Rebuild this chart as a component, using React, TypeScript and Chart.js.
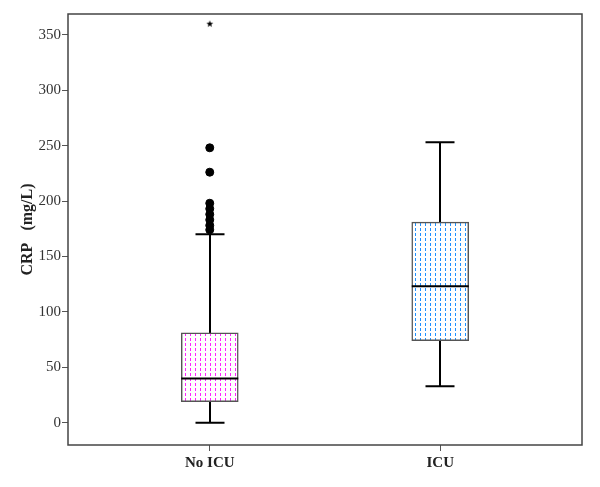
import React, { useEffect, useRef } from "react";
import { Chart, registerables } from "chart.js";
Chart.register(...registerables);

const categories = ["No ICU", "ICU"];
const categoryPositions = [1, 2];
const q1Values = [19, 74];
const medianValues = [40, 123];
const q3Values = [81, 181];
const whiskerLowValues = [0, 33];
const whiskerHighValues = [170, 253];
const outliersNoICU = [174, 178, 183, 188, 193, 198, 226, 248];
const extremesNoICU = [360];
const yTickValues = [0, 50, 100, 150, 200, 250, 300, 350];
const yAxisTitle = "CRP   (mg/L)";
const boxColors = ["#ff22ff", "#1e8fff"];

function makePattern(color: string): CanvasPattern | string {
  const c = document.createElement("canvas");
  c.width = 5;
  c.height = 5;
  const g = c.getContext("2d");
  if (!g) return "#fff";
  g.fillStyle = "#ffffff";
  g.fillRect(0, 0, 5, 5);
  g.fillStyle = color;
  g.fillRect(2, 0, 1, 3);
  const p = g.createPattern(c, "repeat");
  return p || "#fff";
}

function makeStar(): HTMLCanvasElement {
  const c = document.createElement("canvas");
  c.width = 8;
  c.height = 8;
  const g = c.getContext("2d");
  if (g) {
    g.fillStyle = "#000";
    g.beginPath();
    for (let i = 0; i < 10; i++) {
      const r = i % 2 === 0 ? 3.6 : 1.5;
      const a = -Math.PI / 2 + (i * Math.PI) / 5;
      const x = 4 + r * Math.cos(a);
      const y = 4.3 + r * Math.sin(a);
      if (i === 0) g.moveTo(x, y);
      else g.lineTo(x, y);
    }
    g.closePath();
    g.fill();
  }
  return c;
}

const boxPlugin = {
  id: "boxWhiskers",
  beforeDatasetsDraw(chart: any) {
    const { ctx, scales } = chart;
    const xs = scales.x;
    const ys = scales.y;
    ctx.save();
    ctx.strokeStyle = "#000";
    ctx.lineWidth = 2;
    categoryPositions.forEach((pos, i) => {
      const x = Math.round(xs.getPixelForValue(pos));
      const capHalf = 14.5;
      const yHigh = ys.getPixelForValue(whiskerHighValues[i]);
      const yQ3 = ys.getPixelForValue(q3Values[i]);
      const yQ1 = ys.getPixelForValue(q1Values[i]);
      const yLow = ys.getPixelForValue(whiskerLowValues[i]);
      ctx.beginPath();
      ctx.moveTo(x, yHigh);
      ctx.lineTo(x, yQ3);
      ctx.moveTo(x, yQ1);
      ctx.lineTo(x, yLow);
      ctx.moveTo(x - capHalf, yHigh);
      ctx.lineTo(x + capHalf, yHigh);
      ctx.moveTo(x - capHalf, yLow);
      ctx.lineTo(x + capHalf, yLow);
      ctx.stroke();
    });
    ctx.restore();
  },
  afterDatasetsDraw(chart: any) {
    const { ctx, scales } = chart;
    const xs = scales.x;
    const ys = scales.y;
    const meta = chart.getDatasetMeta(0);
    ctx.save();
    ctx.strokeStyle = "#000";
    ctx.lineWidth = 2;
    categoryPositions.forEach((pos, i) => {
      const x = xs.getPixelForValue(pos);
      const el = meta.data[i];
      const half = el ? el.width / 2 : 28;
      const y = ys.getPixelForValue(medianValues[i]);
      ctx.beginPath();
      ctx.moveTo(x - half, y);
      ctx.lineTo(x + half, y);
      ctx.stroke();
    });
    ctx.restore();
  },
  afterDraw(chart: any) {
    const { ctx, chartArea } = chart;
    ctx.save();
    ctx.strokeStyle = "#444";
    ctx.lineWidth = 1.5;
    ctx.strokeRect(chartArea.left, chartArea.top, chartArea.right - chartArea.left, chartArea.bottom - chartArea.top);
    ctx.restore();
  },
};

export default function App() {
  const ref = useRef<HTMLCanvasElement>(null);
  useEffect(() => {
    if (!ref.current) return;
    const patterns = boxColors.map((c) => makePattern(c));
    const star = makeStar();
    const chart = new Chart(ref.current, {
      type: "bar",
      data: {
        datasets: [
          {
            type: "bar",
            data: categoryPositions.map((p, i) => ({ x: p, y: [q1Values[i], q3Values[i]] })) as any,
            backgroundColor: patterns as any,
            borderColor: "#555",
            borderWidth: 1.5,
            borderSkipped: false,
            barThickness: 57,
            grouped: false,
            order: 2,
          } as any,
          {
            type: "scatter",
            data: outliersNoICU.map((v) => ({ x: categoryPositions[0], y: v })),
            backgroundColor: "#000",
            borderColor: "#000",
            pointRadius: 4,
            pointHoverRadius: 4,
            order: 1,
          } as any,
          {
            type: "scatter",
            data: extremesNoICU.map((v) => ({ x: categoryPositions[0], y: v })),
            pointStyle: star,
            pointRadius: 4,
            order: 1,
          } as any,
        ],
      },
      options: {
        animation: false,
        responsive: true,
        maintainAspectRatio: false,
        layout: { padding: { left: 0, right: 10, top: 6, bottom: 0 } },
        plugins: { legend: { display: false }, tooltip: { enabled: false } },
        scales: {
          x: {
            type: "linear",
            min: 0.385,
            max: 2.615,
            offset: false,
            afterBuildTicks: (s: any) => {
              s.ticks = categoryPositions.map((v) => ({ value: v }));
            },
            afterFit: (s: any) => {
              s.height = 34;
            },
            grid: { display: true, offset: false, drawOnChartArea: false, drawTicks: true, tickLength: 6, color: "#555", lineWidth: 1 },
            border: { display: false },
            ticks: {
              autoSkip: false,
              maxRotation: 0,
              padding: 3,
              color: "#222",
              font: { family: "'Liberation Serif', serif", size: 15, weight: "bold" },
              callback: (v: any) => {
                const idx = categoryPositions.indexOf(Number(v));
                return idx >= 0 ? categories[idx] : "";
              },
            },
          },
          y: {
            type: "linear",
            min: -20.1,
            max: 368.7,
            afterBuildTicks: (s: any) => {
              s.ticks = yTickValues.map((v) => ({ value: v }));
            },
            afterFit: (s: any) => {
              s.width = 60;
              s.paddingTop = 0;
              s.paddingBottom = 0;
            },
            grid: { display: true, drawOnChartArea: false, drawTicks: true, tickLength: 6, color: "#555", lineWidth: 1 },
            border: { display: false },
            title: {
              display: true,
              text: yAxisTitle,
              color: "#222",
              padding: { top: 10, bottom: 0 },
              font: { family: "'Liberation Serif', serif", size: 16, weight: "bold" },
            },
            ticks: {
              padding: 1,
              color: "#333",
              font: { family: "'Liberation Serif', serif", size: 15 },
            },
          },
        },
      },
      plugins: [boxPlugin],
    } as any);
    return () => chart.destroy();
  }, []);
  return (
    <div style={{ width: 584, height: 471, position: "relative" }}>
      <canvas ref={ref} />
    </div>
  );
}
